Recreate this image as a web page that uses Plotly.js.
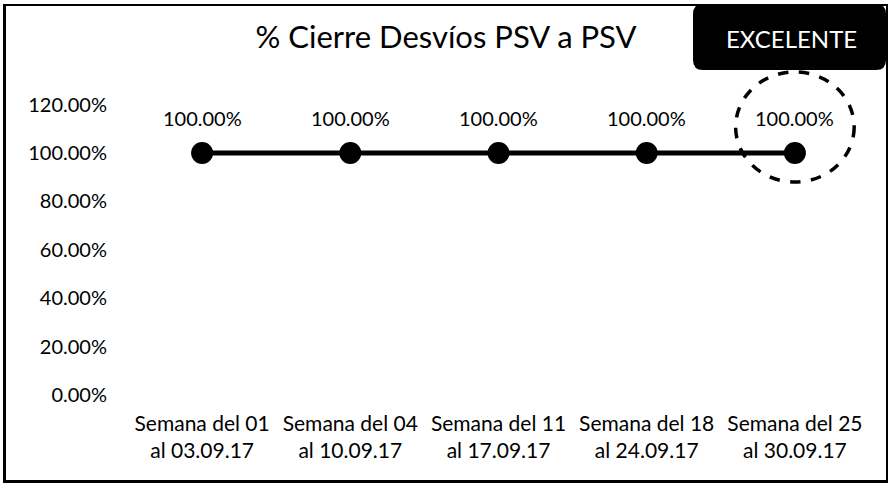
<!DOCTYPE html>
<html>
<head>
<meta charset="utf-8">
<script src="https://cdn.plot.ly/plotly-3.0.1.min.js"></script>
<style>
  html, body { margin: 0; padding: 0; background: #fff; }
  #wrap { position: relative; width: 888px; height: 483px; }
  #chart { position: absolute; left: 0; top: 0; width: 888px; height: 483px; }
  #frame { position: absolute; left: 3px; top: 4px; width: 880px; height: 474px;
           border-top: 2px solid #000; border-right: 2px solid #000;
           border-left: 3px solid #000; border-bottom: 3px solid #000; pointer-events: none; }
</style>
</head>
<body>
<div id="wrap">
  <div id="chart"></div>
  <div id="frame"></div>
</div>
<script>
const categories = [
  "Semana del 01<br>al 03.09.17",
  "Semana del 04<br>al 10.09.17",
  "Semana del 11<br>al 17.09.17",
  "Semana del 18<br>al 24.09.17",
  "Semana del 25<br>al 30.09.17"
];
const values = [100, 100, 100, 100, 100];
const yTicks = [0, 20, 40, 60, 80, 100, 120];
const yTickLabels = yTicks.map(v => v.toFixed(2) + "%");
const titleText = "% Cierre Desvíos PSV a PSV";
const badgeText = "EXCELENTE";

const W = 888, H = 483;
const M = { l: 128, r: 19, t: 32, b: 88 };
const pw = W - M.l - M.r, ph = H - M.t - M.b;
const px = x => (x - M.l) / pw;
const py = y => (H - M.b - y) / ph;

const FONT = "Lato, 'Noto Sans', sans-serif";

// rounded badge path (pixel corners converted to paper)
function roundRect(x0, y0, x1, y1, r) {
  const P = (x, y) => px(x) + "," + py(y);
  return "M" + P(x0 + r, y0) + " L" + P(x1 - r, y0) + " Q" + P(x1, y0) + " " + P(x1, y0 + r) +
         " L" + P(x1, y1 - r) + " Q" + P(x1, y1) + " " + P(x1 - r, y1) +
         " L" + P(x0 + r, y1) + " Q" + P(x0, y1) + " " + P(x0, y1 - r) +
         " L" + P(x0, y0 + r) + " Q" + P(x0, y0) + " " + P(x0 + r, y0) + " Z";
}

const trace = {
  type: "scatter",
  mode: "lines+markers",
  x: categories,
  y: values,
  line: { color: "#000", width: 5 },
  marker: { color: "#000", size: 22 },
  hoverinfo: "skip",
  cliponaxis: false
};

const labelAnns = categories.map((c, i) => ({
  x: c, y: values[i], xref: "x", yref: "y",
  text: values[i].toFixed(2) + "%",
  showarrow: false, yshift: 35,
  font: { family: FONT, size: 20, color: "#000" }
}));

const layout = {
  width: W, height: H,
  margin: M,
  paper_bgcolor: "#fff", plot_bgcolor: "#fff",
  showlegend: false,
  title: {
    text: titleText,
    font: { family: FONT, size: 31, color: "#000" },
    x: 446 / W, xanchor: "center",
    y: 1 - 37 / H, yanchor: "middle"
  },
  xaxis: {
    type: "category",
    range: [-0.5, 4.5],
    showgrid: false, zeroline: false, showline: false, ticks: "",
    ticklabelstandoff: 14,
    tickfont: { family: FONT, size: 21, color: "#000" },
    fixedrange: true
  },
  yaxis: {
    range: [0, 150],
    tickvals: yTicks, ticktext: yTickLabels,
    showgrid: false, zeroline: false, showline: false, ticks: "",
    ticklabelstandoff: 20,
    tickfont: { family: FONT, size: 20, color: "#000" },
    fixedrange: true
  },
  shapes: [
    {
      type: "path", xref: "paper", yref: "paper",
      path: roundRect(693, 4, 886, 70, 10),
      fillcolor: "#000", line: { width: 0 }
    },
    {
      type: "circle", xref: "x", yref: "y",
      x0: 3.6, x1: 4.4, y0: 88, y1: 133.5,
      line: { color: "#000", width: 3.5, dash: "dash" }
    }
  ],
  annotations: labelAnns.concat([{
    xref: "paper", yref: "paper",
    x: px(791), y: py(39), xanchor: "center", yanchor: "middle",
    text: badgeText, showarrow: false,
    font: { family: FONT, size: 24, color: "#fff" }
  }])
};

Plotly.newPlot("chart", [trace], layout, { displayModeBar: false, staticPlot: true });
</script>
</body>
</html>
